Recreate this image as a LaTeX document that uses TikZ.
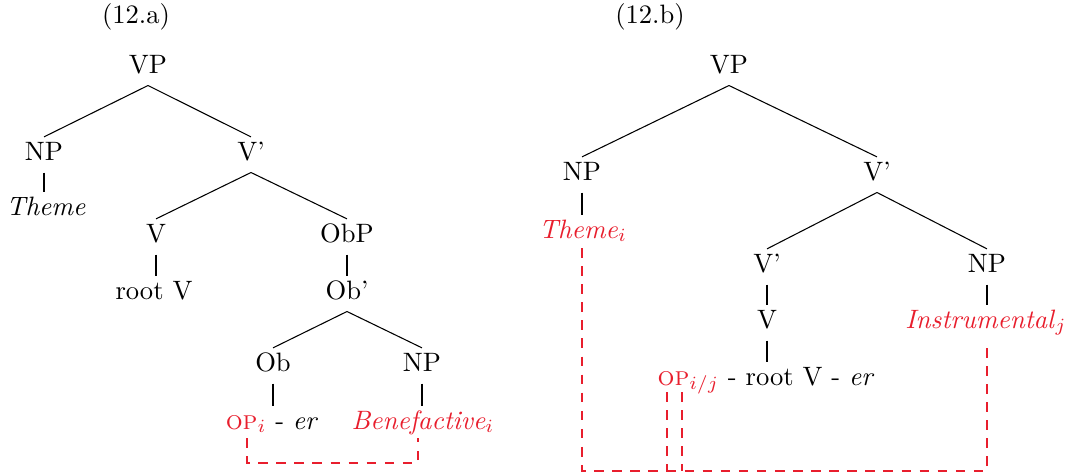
\documentclass[tikz,border=0pt]{standalone}
\usepackage{amsmath}
\usepackage{xcolor}
\usetikzlibrary{positioning,calc}

\definecolor{idxred}{RGB}{232,30,45}

\begin{document}
\begin{tikzpicture}[x=0.376pt, y=-0.376pt,
    cat/.style={anchor=base, inner sep=2pt, text height=6.5pt, text depth=2.5pt},
    coindex/.style={idxred, dash pattern=on 3.6pt off 3.2pt}]
    \useasboundingbox (0,0) rectangle (1068,473);

    % Tree (12.a)
    \node[cat] (t12a) at (136,23) {(12.a)};
    \node[cat] (vpA) at (148,73) {VP};
    \node[cat] (npA) at (44,160) {NP};
    \node[cat] (vbarA) at (251,160) {V'};
    \node[cat] (themeA) at (46,215) {\textit{Theme}};
    \node[cat] (vA) at (156,242) {V};
    \node[cat] (obpA) at (347,242) {ObP};
    \node[cat] (rootA) at (154,299) {root V};
    \node[cat] (obbarA) at (347,299) {Ob'};
    \node[cat] (obA) at (273,371) {Ob};
    \node[cat] (npbA) at (422,371) {NP};
    \node[cat] (opA) at (272,429) {\textcolor{idxred}{\textsc{op}$_i$} - \textit{er}};
    \node[cat] (beneA) at (423,429) {\textcolor{idxred}{\textit{Benefactive}$_i$}};

    \draw (vpA.south) -- (npA.north);
    \draw (vpA.south) -- (vbarA.north);
    \draw (npA.south) -- (npA.south |- themeA.north);
    \draw (vbarA.south) -- (vA.north);
    \draw (vbarA.south) -- (obpA.north);
    \draw (vA.south) -- (vA.south |- rootA.north);
    \draw (obpA.south) -- (obbarA.north);
    \draw (obbarA.south) -- (obA.north);
    \draw (obbarA.south) -- (npbA.north);
    \draw (obA.south) -- (obA.south |- opA.north);
    \draw (npbA.south) -- (npbA.south |- beneA.north);

    % coindexing (12.a)
    \coordinate (opAend) at (247,438);
    \coordinate (beneAend) at (418,438);
    \coordinate (botA) at (0,463);
    \draw[coindex] (opAend) |- (botA -| beneAend) -- (beneAend);

    % Tree (12.b)
    \node[cat] (t12b) at (650,23) {(12.b)};
    \node[cat] (vpB) at (729,73) {VP};
    \node[cat] (npB) at (582,180) {NP};
    \node[cat] (vbarB) at (877,180) {V'};
    \node[cat] (themeB) at (583,238) {\textcolor{idxred}{\textit{Theme}$_i$}};
    \node[cat] (vbar2B) at (767,272) {V'};
    \node[cat] (npiB) at (987,272) {NP};
    \node[cat] (vB) at (767,328) {V};
    \node[cat] (instrB) at (986,328) {\textcolor{idxred}{\textit{Instrumental}$_j$}};
    \node[cat] (opB) at (766,385) {\textcolor{idxred}{\textsc{op}$_{i/j}$} - root V - \textit{er}};

    \draw (vpB.south) -- (npB.north);
    \draw (vpB.south) -- (vbarB.north);
    \draw (npB.south) -- (npB.south |- themeB.north);
    \draw (vbarB.south) -- (vbar2B.north);
    \draw (vbarB.south) -- (npiB.north);
    \draw (vbar2B.south) -- (vB.north);
    \draw (npiB.south) -- (npiB.south |- instrB.north);
    \draw (vB.south) -- (vB.south |- opB.north);

    % coindexing (12.b)
    \coordinate (themeBend) at (582,248);
    \coordinate (instrBend) at (987,342);
    \coordinate (opBi) at (667,392);
    \coordinate (opBj) at (682,392);
    \coordinate (botB) at (0,471);
    \draw[coindex] (themeBend) |- (botB -| instrBend) -- (instrBend);
    \draw[coindex] (opBi) -- (opBi |- botB);
    \draw[coindex] (opBj) -- (opBj |- botB);
\end{tikzpicture}
\end{document}
